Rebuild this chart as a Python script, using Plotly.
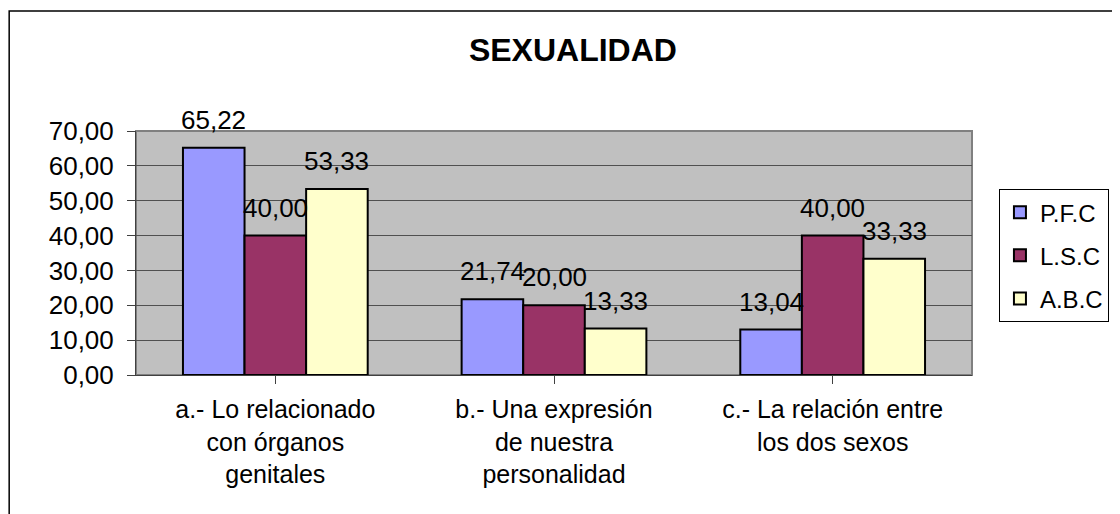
import plotly.graph_objects as go

CATEGORIES = [
    "a.- Lo relacionado<br>con órganos<br>genitales",
    "b.- Una expresión<br>de nuestra<br>personalidad",
    "c.- La relación entre<br>los dos sexos",
]
SERIES = ["P.F.C", "L.S.C", "A.B.C"]
PFC = [65.22, 21.74, 13.04]
LSC = [40.00, 20.00, 40.00]
ABC = [53.33, 13.33, 33.33]
COLORS = ["#9999FF", "#993366", "#FFFFCC"]
Y_TICKS = [0, 10, 20, 30, 40, 50, 60, 70]

FONT = "Arial, Liberation Sans, sans-serif"
BAR_GAP = 0.337

fig = go.Figure()
values = [PFC, LSC, ABC]
for name, vals, color in zip(SERIES, values, COLORS):
    fig.add_trace(go.Bar(
        x=list(range(len(CATEGORIES))), y=vals, name=name, legendgroup=name,
        marker=dict(color=color, line=dict(color="black", width=2)),
    ))

# data labels above the bars (excel-like offset)
bar_w = (1 - BAR_GAP) / len(SERIES)
for i, vals in enumerate(values):
    off = (i - 1) * bar_w
    for j, v in enumerate(vals):
        fig.add_annotation(
            x=j + off, y=v, xref="x", yref="y", text=f"{v:.2f}".replace(".", ","),
            showarrow=False, yanchor="middle", yshift=28,
            font=dict(family=FONT, size=26, color="black"),
        )

# plot area frame and outer chart border
fig.add_shape(type="rect", xref="paper", yref="paper", x0=0, x1=1, y0=0, y1=1,
              line=dict(color="#808080", width=2), layer="below")
fig.add_shape(type="rect", xref="paper", yref="paper", x0=-0.1517, x1=1.3, y0=-0.7, y1=1.4918,
              line=dict(color="black", width=1.5))

# page body has an 8px margin, so the figure is 8px smaller than the window
fig.update_layout(
    width=1112, height=506,
    margin=dict(l=128, r=147, t=123, b=139),
    paper_bgcolor="white", plot_bgcolor="#C0C0C0",
    barmode="group", bargap=BAR_GAP, bargroupgap=0,
    separators=", ",
    font=dict(family=FONT, size=24, color="black"),
    title=dict(text="<b>SEXUALIDAD</b>", x=0.508, xanchor="center", y=0.917, yanchor="middle",
               font=dict(family=FONT, size=32, color="black")),
    showlegend=True,
    legend=dict(x=1.031, y=0.762, xanchor="left", yanchor="top", bgcolor="white",
                bordercolor="black", borderwidth=1, tracegroupgap=9,
                font=dict(family=FONT, size=24, color="black")),
)
fig.update_xaxes(
    tickmode="array", tickvals=list(range(len(CATEGORIES))), ticktext=CATEGORIES,
    range=[-0.5, 2.5], showline=True, linecolor="#404040", linewidth=1,
    ticks="outside", tickson="boundaries", ticklen=8, tickcolor="#404040",
    showgrid=False, tickfont=dict(family=FONT, size=25), ticklabelstandoff=4,
)
fig.update_yaxes(
    range=[0, 70], tickvals=Y_TICKS, tickformat=".2f",
    showline=True, linecolor="#404040", linewidth=1,
    ticks="outside", ticklen=8, tickcolor="#404040",
    showgrid=True, gridcolor="#505050", gridwidth=1, zeroline=False,
    tickfont=dict(family=FONT, size=26), ticklabelstandoff=8,
)

fig.write_html("out.html")
